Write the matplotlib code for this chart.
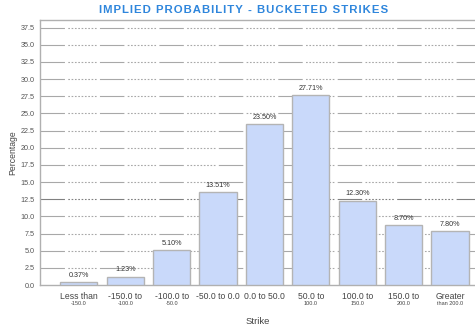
import matplotlib
matplotlib.use("Agg")
import matplotlib.pyplot as plt
from matplotlib import transforms

# bucketed strike probabilities
buckets_top = ["Less than", "-150.0 to", "-100.0 to", "-50.0 to 0.0", "0.0 to 50.0",
               "50.0 to", "100.0 to", "150.0 to", "Greater"]
buckets_sub = ["-150.0", "-100.0", "-50.0", "", "", "100.0", "150.0", "200.0", "than 200.0"]
probs = [0.37, 1.23, 5.10, 13.51, 23.50, 27.71, 12.30, 8.70, 7.80]
yticks = [0.0, 2.5, 5.0, 7.5, 10.0, 12.5, 15.0, 17.5, 20.0, 22.5, 25.0, 27.5, 30.0, 32.5, 35.0, 37.5]
title = "IMPLIED PROBABILITY - BUCKETED STRIKES"

plt.rcParams['font.family'] = ['Liberation Sans', 'DejaVu Sans']

fig = plt.figure(figsize=(4.75, 3.28), dpi=100)
ax = fig.add_axes([40 / 475, 43 / 328, 1 - 40 / 475 + 0.01, 265 / 328])

xs = list(range(len(probs)))
ax.bar(xs, probs, width=0.8, color="#c9d9fa", edgecolor="#b4b4b4", linewidth=1.0, zorder=3)

for x, p in zip(xs, probs):
    ax.text(x, p + 0.45, "%.2f%%" % p, ha="center", va="bottom", fontsize=5.2,
            color="#333333", zorder=4)

# dash-dot style grid lines
for y in yticks[1:]:
    ax.axhline(y, color="#a8a8a8" if y != 12.5 else "#808080", linewidth=0.8,
               dashes=(22, 3, 1.5, 1.5, 1.5, 1.5, 1.5, 1.5, 1.5, 1.5, 1.5, 1.5, 1.5, 1.5, 1.5, 1.5, 1.5, 1.5, 1.5, 3),
               zorder=1)

ax.set_xlim(-0.837, 8.64)
ax.set_ylim(0, 38.6)
ax.set_yticks(yticks)
ax.set_yticklabels(["%.1f" % t for t in yticks], fontsize=5.2, color="#555555")
ax.tick_params(axis="y", length=0, pad=4)
ax.set_xticks([])

for s in ax.spines.values():
    s.set_color("#b0b0b0")
    s.set_linewidth(1.0)

trans = transforms.blended_transform_factory(ax.transData, ax.transAxes)
for x, top, sub in zip(xs, buckets_top, buckets_sub):
    ax.text(x, -0.025, top, transform=trans, ha="center", va="top", fontsize=6.2, color="#444444")
    if sub:
        ax.text(x, -0.06, sub, transform=trans, ha="center", va="top", fontsize=4.0, color="#444444")

ax.set_ylabel("Percentage", fontsize=6.2, color="#444444", labelpad=2)
fig.text(258 / 475, 1 - 322 / 328, "Strike", ha="center", va="center", fontsize=6.8, color="#444444")

# letter-spaced title
fig.text(244 / 475, 1 - 10 / 328, "\u200a".join(title), ha="center", va="center",
         fontsize=8.2, fontweight="bold", color="#2f86dc",
         family=['Liberation Sans', 'DejaVu Sans'])

fig.savefig("out.png", dpi=100)
